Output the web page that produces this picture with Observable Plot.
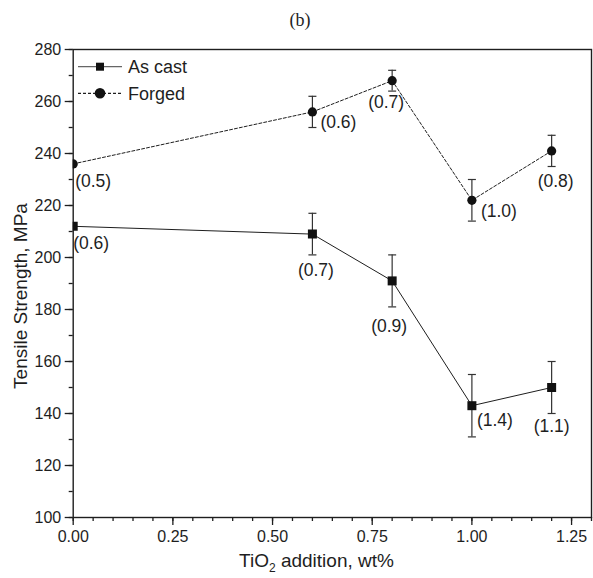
<!DOCTYPE html>
<html><head><meta charset="utf-8">
<script src="https://cdn.jsdelivr.net/npm/d3@7"></script>
<script src="https://cdn.jsdelivr.net/npm/@observablehq/plot@0.6"></script>
<style>body{margin:0;background:#fff;}</style>
</head><body><div id="chart"></div>
<script>
// ---- data ----
const additions = [0, 0.6, 0.8, 1.0, 1.2];
const asCast = [212, 209, 191, 143, 150];
const asCastErr = [0, 8, 10, 12, 10];
const asCastLabels = ["(0.6)", "(0.7)", "(0.9)", "(1.4)", "(1.1)"];
const forged = [236, 256, 268, 222, 241];
const forgedErr = [0, 6, 4, 8, 6];
const forgedLabels = ["(0.5)", "(0.6)", "(0.7)", "(1.0)", "(0.8)"];
const xTicks = [0, 0.25, 0.5, 0.75, 1.0, 1.25];
const xTickLabels = ["0.00", "0.25", "0.50", "0.75", "1.00", "1.25"];
const yTicks = [100, 120, 140, 160, 180, 200, 220, 240, 260, 280];
const seriesNames = ["As cast", "Forged"];
const titleText = "(b)";
const xLabelParts = ["TiO", "2", " addition, wt%"];
const yLabelText = "Tensile Strength, MPa";

// ---- styling ----
const ink = "#1e1e1e";
const asCastLabelPos = [
  {dx: 0, dy: 17, anchor: "start"},
  {dx: 3.5, dy: 36, anchor: "middle"},
  {dx: -3, dy: 45, anchor: "middle"},
  {dx: 5, dy: 15, anchor: "start"},
  {dx: 0, dy: 39, anchor: "middle"}
];
const forgedLabelPos = [
  {dx: 2, dy: 17, anchor: "start"},
  {dx: 8, dy: 10, anchor: "start"},
  {dx: -6, dy: 22, anchor: "middle"},
  {dx: 9, dy: 11, anchor: "start"},
  {dx: 4, dy: 30, anchor: "middle"}
];
const cap = {draw(ctx) { ctx.moveTo(-4, 0); ctx.lineTo(4, 0); }};

const idx = additions.map((_, i) => i);
const xOf = i => additions[i];

function seriesMarks(vals, errs, labels, labelPos, symbol, r, dash) {
  const withErr = idx.filter(i => errs[i] > 0);
  const marks = [
    Plot.line(idx, {x: xOf, y: i => vals[i], stroke: ink, strokeWidth: 1, strokeDasharray: dash, clip: true}),
    Plot.ruleX(withErr, {x: xOf, y1: i => vals[i] - errs[i], y2: i => vals[i] + errs[i], stroke: "#333", strokeWidth: 1.2}),
    Plot.dot(withErr, {x: xOf, y: i => vals[i] - errs[i], symbol: cap, stroke: "#333", strokeWidth: 1.2, r: 3}),
    Plot.dot(withErr, {x: xOf, y: i => vals[i] + errs[i], symbol: cap, stroke: "#333", strokeWidth: 1.2, r: 3}),
    Plot.dot(idx, {x: xOf, y: i => vals[i], symbol, r, fill: "#111", stroke: "none", clip: true})
  ];
  idx.forEach(i => {
    const p = labelPos[i];
    marks.push(Plot.text([i], {x: xOf, y: j => vals[j], text: j => labels[j],
      dx: p.dx, dy: p.dy, textAnchor: p.anchor, fontSize: 17.5, fill: ink}));
  });
  return marks;
}

const svg = Plot.plot({
  width: 593, height: 578,
  marginLeft: 72.7, marginRight: 2, marginTop: 49, marginBottom: 61,
  x: {domain: [0, 1.3]},
  y: {domain: [100, 280]},
  style: {fontFamily: "'Liberation Sans', Arial, sans-serif", fontSize: "16px", color: ink, background: "#fff"},
  marks: [
    Plot.axisX(d3.range(0, 1.301, 0.05), {tickSize: 4, strokeWidth: 1.3, tickFormat: () => "", label: null}),
    Plot.axisX(xTicks, {tickSize: 8, tickPadding: 5, strokeWidth: 1.3, label: null,
      tickFormat: d => xTickLabels[xTicks.findIndex(t => Math.abs(t - d) < 1e-9)]}),
    Plot.axisY(d3.range(100, 281, 10), {tickSize: 4, strokeWidth: 1.3, tickFormat: () => "", label: null}),
    Plot.axisY(yTicks, {tickSize: 8, tickPadding: 4, strokeWidth: 1.3, label: null}),
    Plot.frame({stroke: ink, strokeWidth: 1.4}),
    ...seriesMarks(asCast, asCastErr, asCastLabels, asCastLabelPos, "square", 5.08, null),
    ...seriesMarks(forged, forgedErr, forgedLabels, forgedLabelPos, "circle", 4.6, "3,2")
  ]
});
document.getElementById("chart").appendChild(svg);

const s = d3.select(svg);
s.append("text").attr("x", 300).attr("y", 26).attr("text-anchor", "middle")
  .style("font-family", "'Liberation Serif', 'Times New Roman', serif").style("font-size", "18px")
  .attr("fill", ink).text(titleText);

const xl = s.append("text").attr("x", 316.5).attr("y", 566.7).attr("text-anchor", "middle")
  .style("font-size", "19px").attr("fill", ink);
xl.append("tspan").text(xLabelParts[0]);
xl.append("tspan").attr("dy", 5).style("font-size", "12px").text(xLabelParts[1]);
xl.append("tspan").attr("dy", -5).text(xLabelParts[2]);

s.append("text").attr("transform", "translate(27,296) rotate(-90)").attr("text-anchor", "middle")
  .style("font-size", "19px").attr("fill", ink).text(yLabelText);

// legend
const lg = s.append("g").style("font-size", "18px").attr("fill", ink).attr("text-anchor", "start");
const rows = [{y: 66.7, dash: null, stroke: "#666", sym: "square"}, {y: 93.3, dash: "3,2", stroke: ink, sym: "circle"}];
rows.forEach((row, k) => {
  lg.append("line").attr("x1", 78).attr("x2", 122).attr("y1", row.y).attr("y2", row.y)
    .attr("stroke", row.stroke).attr("stroke-width", 1.2).attr("stroke-dasharray", row.dash);
  if (row.sym === "square") {
    lg.append("rect").attr("x", 96).attr("y", row.y - 4).attr("width", 8).attr("height", 8).attr("fill", "#111");
  } else {
    lg.append("circle").attr("cx", 100).attr("cy", row.y).attr("r", 5.3).attr("fill", "#111");
  }
  lg.append("text").attr("x", 128).attr("y", row.y + 6.4).attr("text-anchor", "start").text(seriesNames[k]);
});
</script>
</body></html>
